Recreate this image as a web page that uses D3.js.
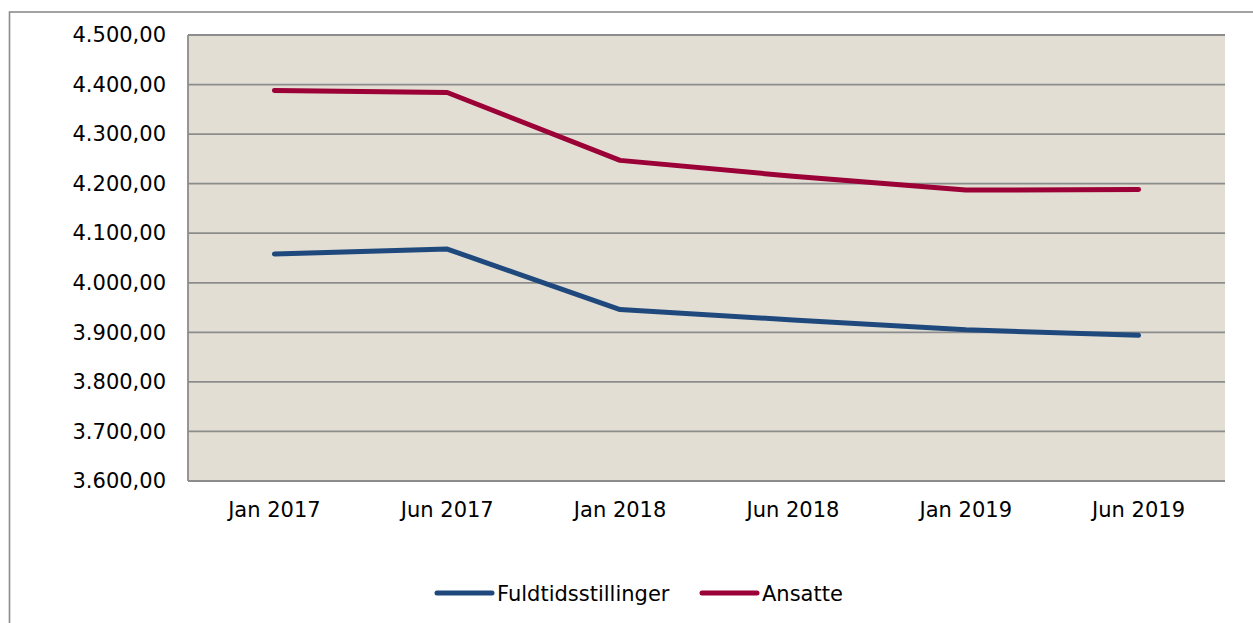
<!DOCTYPE html>
<html>
<head>
<meta charset="utf-8">
<script src="https://cdn.jsdelivr.net/npm/d3@7"></script>
<style>
    body{margin:0;background:#fff;}
    svg{display:block;font-family:"DejaVu Sans",Verdana,sans-serif;}
</style>
</head>
<body>
<div class="chart"></div>
<script>
// data
var categories = ["Jan 2017","Jun 2017","Jan 2018","Jun 2018","Jan 2019","Jun 2019"];
var fuldtid = [4058,4068,3946,3925,3905,3894];
var ansatte = [4388,4384,4247,4215,4187,4188];
var yTicks = [3600,3700,3800,3900,4000,4100,4200,4300,4400,4500];
var seriesNames = ["Fuldtidsstillinger","Ansatte"];
var seriesColors = ["#1f497d","#9b0036"];

var W = 1253, H = 623;
var pLeft = 188, pRight = 1225, pTop = 35, pBottom = 481;

var svg = d3.select("div.chart")
    .append("svg")
    .attr("width",W)
    .attr("height",H);

// outer frame, runs off the page on the right and bottom
svg.append("rect")
    .attr("x",9.5).attr("y",12)
    .attr("width",W+20).attr("height",H+20)
    .attr("fill","none")
    .attr("stroke","#8c8c8c")
    .attr("stroke-width",1.6);

var x = d3.scaleBand().domain(categories).range([pLeft,pRight]);
var y = d3.scaleLinear().domain([3600,4500]).range([pBottom,pTop]);

svg.append("rect")
    .attr("x",pLeft).attr("y",pTop)
    .attr("width",pRight-pLeft).attr("height",pBottom-pTop)
    .attr("fill","#e2ded4");

// grid
svg.append("g")
    .selectAll("line")
    .data(yTicks)
    .enter()
    .append("line")
    .attr("x1",pLeft).attr("x2",pRight)
    .attr("y1",function(d){return y(d);})
    .attr("y2",function(d){return y(d);})
    .attr("stroke","#8c8c8c")
    .attr("stroke-width",1.8);

svg.append("line")
    .attr("x1",pLeft).attr("x2",pLeft)
    .attr("y1",pTop).attr("y2",pBottom)
    .attr("stroke","#8c8c8c")
    .attr("stroke-width",1.8);

var fmt = d3.formatLocale({decimal:",",thousands:".",grouping:[3],currency:["","kr"]}).format(",.2f");

// y axis labels
var yAxis = svg.append("g")
    .attr("transform","translate("+(pLeft-22)+",0)")
    .call(d3.axisLeft(y).tickValues(yTicks).tickFormat(fmt).tickSize(0).tickPadding(0));
yAxis.select(".domain").remove();
yAxis.selectAll("text")
    .attr("font-family","DejaVu Sans, Verdana, sans-serif")
    .attr("font-size","21px")
    .attr("fill","#000");

// x axis labels
var xAxis = svg.append("g")
    .attr("transform","translate(0,"+pBottom+")")
    .call(d3.axisBottom(x).tickSize(0).tickPadding(0));
xAxis.select(".domain").remove();
xAxis.selectAll("text")
    .attr("dy",null)
    .attr("y",36)
    .attr("font-family","DejaVu Sans, Verdana, sans-serif")
    .attr("font-size","21px")
    .attr("fill","#000");

var line = d3.line()
    .x(function(d,i){return x(categories[i])+x.bandwidth()/2;})
    .y(function(d){return y(d);});

[fuldtid,ansatte].forEach(function(s,i){
    svg.append("path")
        .datum(s)
        .attr("d",line)
        .attr("fill","none")
        .attr("stroke",seriesColors[i])
        .attr("stroke-width",5)
        .attr("stroke-linecap","round")
        .attr("stroke-linejoin","round");
});

// legend
var legendX = [437,702];
var leg = svg.append("g").selectAll("g")
    .data(seriesNames)
    .enter()
    .append("g")
    .attr("transform",function(d,i){return "translate("+legendX[i]+",593)";});
leg.append("line")
    .attr("x1",0).attr("x2",55)
    .attr("stroke",function(d,i){return seriesColors[i];})
    .attr("stroke-width",5)
    .attr("stroke-linecap","round");
leg.append("text")
    .attr("x",60)
    .attr("y",8)
    .attr("font-size","21px")
    .attr("fill","#000")
    .text(function(d){return d;});
</script>
</body>
</html>
